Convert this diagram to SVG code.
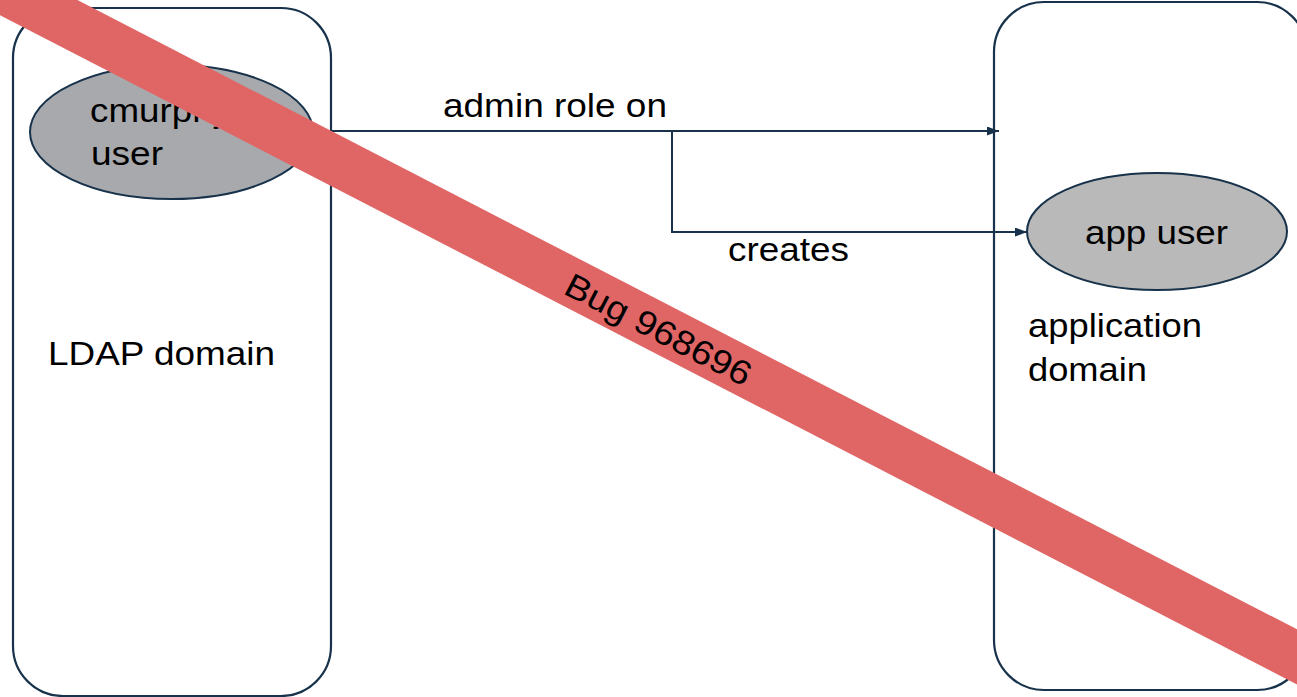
<svg xmlns="http://www.w3.org/2000/svg" width="1297" height="697" viewBox="0 0 1297 697">
<style>
.box{fill:#ffffff;stroke:#17324a;stroke-width:2.2}
.ell{stroke:#17324a;stroke-width:2}
.t{font-family:"Liberation Sans",Arial,sans-serif;font-size:34px;fill:#000000}
.conn{fill:none;stroke:#17324a;stroke-width:2}
</style>
<defs>
<marker id="arr" viewBox="0 0 12 9" refX="12" refY="4.5" markerWidth="12" markerHeight="9" markerUnits="userSpaceOnUse" orient="auto">
<path d="M0,0 L12,4.5 L0,9 Z" fill="#17324a"/>
</marker>
</defs>
<rect width="1297" height="697" fill="#ffffff"/>
<g id="ldap-domain">
<rect class="box" x="13" y="8" width="318" height="688" rx="50" ry="50"/>
<text class="t" x="48" y="365" textLength="227" lengthAdjust="spacingAndGlyphs">LDAP domain</text>
</g>
<g id="app-domain">
<rect class="box" x="994" y="2" width="313" height="688" rx="50" ry="50"/>
<text class="t" x="1028" y="337" textLength="174" lengthAdjust="spacingAndGlyphs">application</text>
<text class="t" x="1028" y="381" textLength="119" lengthAdjust="spacingAndGlyphs">domain</text>
</g>
<g id="cmurphy-user">
<ellipse class="ell" cx="171.5" cy="132" rx="141.5" ry="67" fill="#a8a9ad"/>
<text class="t" x="90" y="122" textLength="141" lengthAdjust="spacingAndGlyphs">cmurphy</text>
<text class="t" x="91" y="165" textLength="72" lengthAdjust="spacingAndGlyphs">user</text>
</g>
<g id="app-user">
<ellipse class="ell" cx="1157" cy="231.5" rx="130" ry="58.5" fill="#b9b9b9"/>
<text class="t" x="1085" y="244" textLength="143" lengthAdjust="spacingAndGlyphs">app user</text>
</g>
<g id="connectors">
<path class="conn" d="M331,131 L999,131" marker-end="url(#arr)"/>
<path class="conn" d="M672,131 L672,232 L1027,232" marker-end="url(#arr)"/>
<text class="t" x="443" y="117" textLength="224" lengthAdjust="spacingAndGlyphs">admin role on</text>
<text class="t" x="728" y="261" textLength="121" lengthAdjust="spacingAndGlyphs">creates</text>
</g>
<g id="bug-banner">
<line x1="-100" y1="-64" x2="1400" y2="710" stroke="#e06666" stroke-width="49"/>
<text class="t" transform="translate(653,340) rotate(27.3)" x="0" y="0" text-anchor="middle" textLength="205" lengthAdjust="spacingAndGlyphs">Bug 968696</text>
</g>
</svg>
